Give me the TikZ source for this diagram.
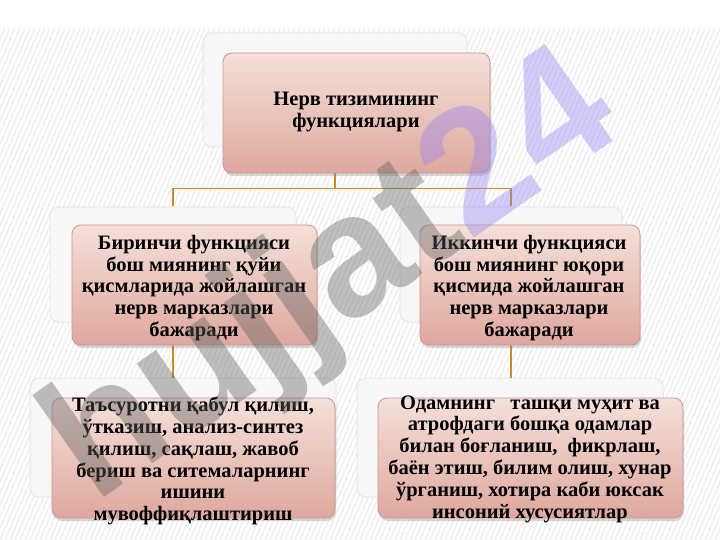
\documentclass[tikz,border=0pt]{standalone}
\usepackage{fontspec}
\setmainfont{Liberation Serif}
\newfontfamily\wmfont{Liberation Sans}
\usetikzlibrary{shadows}
\definecolor{conn}{RGB}{205,135,45}
\definecolor{boxtop}{RGB}{245,224,218}
\definecolor{boxbot}{RGB}{222,168,158}
\definecolor{boxline}{RGB}{205,150,140}
\definecolor{wmgray}{RGB}{95,95,95}
\definecolor{wmviolet}{RGB}{150,130,240}
\begin{document}
\begin{tikzpicture}[x=1pt,y=-1pt,
  backpanel/.style={draw=gray!18, fill=gray!6, rounded corners=9pt, line width=1pt, inner sep=0pt},
  frontbox/.style={draw=boxline, top color=boxtop, bottom color=boxbot, rounded corners=9pt, line width=0.8pt,
    drop shadow={shadow xshift=1pt, shadow yshift=-3pt, opacity=0.3}, inner sep=0pt, minimum height=120pt},
  boxtext/.style={font=\bfseries\fontsize{20.5}{21.8}\selectfont, align=center, inner sep=0pt, text=black},
  link/.style={draw=conn, line width=1.3pt}]
\useasboundingbox (0,0) rectangle (720,540);
% background
\fill[white] (0,0) rectangle (720,540);
\begin{scope}
  \clip (0,28) rectangle (720,540);
  \foreach \i in {-300,-295,...,720}
    \draw[gray!12, line width=1.6pt] (\i,540) -- ++(220,-512);
\end{scope}
% back panels
\node[backpanel, minimum width=264pt, minimum height=114pt] (bT) at (335,90) {};
\node[backpanel, minimum width=246pt, minimum height=115pt] (bL1) at (173,264.5) {};
\node[backpanel, minimum width=222pt, minimum height=115pt] (bR1) at (511,264.5) {};
\node[backpanel, minimum width=306pt, minimum height=119pt] (bL2) at (183,437.5) {};
\node[backpanel, minimum width=306pt, minimum height=119pt] (bR2) at (510,437.5) {};
% connectors
\draw[link] (bT.south) -- ++(0,41) coordinate (j);
\draw[link] (j) -| (bL1.north);
\draw[link] (j) -| (bR1.north);
\draw[link] (bL1.south) -- (bL1.south |- bL2.north);
\draw[link] (bR1.south) -- (bR1.south |- bR2.north);
% front boxes
\node[frontbox, minimum width=267pt] (T) at (356.5,113) {};
\node[frontbox, minimum width=245pt] (L1) at (194.5,285) {};
\node[frontbox, minimum width=220pt] (R1) at (530,285) {};
\node[frontbox, minimum width=283pt] (L2) at (193.5,458) {};
\node[frontbox, minimum width=305pt] (R2) at (530.5,458) {};
% texts
\node[boxtext] (tT) at (356,112) {Нерв тизимининг\\функциялари};
\node[boxtext] (tL1) at (194,288) {Биринчи функцияси\\бош миянинг қуйи\\қисмларида жойлашган\\нерв марказлари\\бажаради};
\node[boxtext] (tR1) at (529,288) {Иккинчи функцияси\\бош миянинг юқори\\қисмида жойлашган\\нерв марказлари\\бажаради};
\node[boxtext] (tL2) at (193,461) {Таъсуротни қабул қилиш,\\ўтказиш, анализ-синтез\\қилиш, сақлаш, жавоб\\бериш ва ситемаларнинг\\ишини\\мувоффиқлаштириш};
\node[boxtext] (tR2) at (530,459) {Одамнинг \ \ ташқи муҳит ва\\атрофдаги бошқа одамлар\\билан боғланиш, \ фикрлаш,\\баён этиш, билим олиш, хунар\\ўрганиш, хотира каби юксак\\инсоний хусусиятлар};
% watermark
\node[rotate=35, font=\wmfont\bfseries\fontsize{172}{172}\selectfont, text opacity=0.4, inner sep=0pt] (wm) at (335,282)
  {\textcolor{wmgray}{hujjat}\textcolor{wmviolet}{24}};
\end{tikzpicture}
\end{document}
